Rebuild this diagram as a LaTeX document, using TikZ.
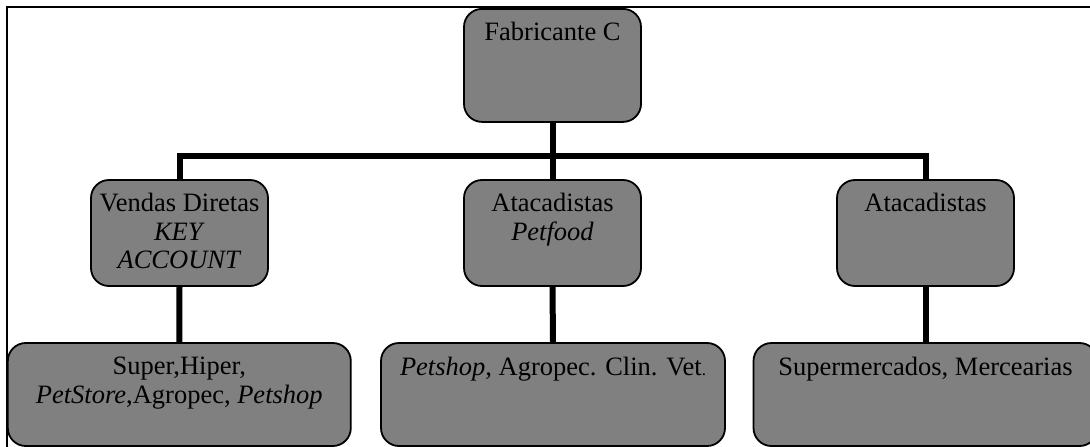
\documentclass[tikz,border=0pt]{standalone}
\usepackage{fontspec}
\setmainfont{Liberation Serif}
\definecolor{boxgray}{RGB}{128,128,128}
\begin{document}
\begin{tikzpicture}[x=1pt,y=-1pt,
  chanbox/.style={draw=black,line width=1.8pt,fill=boxgray,rounded corners=18pt,
    inner sep=0pt,minimum width=#1},
  chanbox/.default=177pt,
  boxtext/.style={anchor=north,inner sep=0pt,align=center,text=black,
    font=\fontsize{26.5}{28.5}\selectfont},
  conn/.style={line width=6pt,draw=black}]
\useasboundingbox (0,0) rectangle (1090,447);
\clip (0,0) rectangle (1090,447);

% outer frame
\draw[line width=2pt] (6.5,460) -- (6.5,6.5) -- (1100,6.5);

% channel boxes
\node[chanbox,minimum height=113pt] (fab) at (552.5,65.4) {};
\node[chanbox,minimum height=106pt] (vd)  at (179.5,233) {};
\node[chanbox,minimum height=106pt] (atp) at (552.5,233) {};
\node[chanbox,minimum height=106pt] (at)  at (925.5,233) {};
\node[chanbox=343pt,minimum height=103pt] (sup) at (179.3,394.5) {};
\node[chanbox=344pt,minimum height=103pt] (pet) at (553,394.5) {};
\node[chanbox=344pt,minimum height=103pt] (mer) at (925.5,394.5) {};

% connectors
\coordinate (bus) at (552.5,156);
\draw[conn] (fab.south) -- (atp.north);
\draw[conn] (vd.north) |- (bus) -| (at.north);
\draw[conn] (vd.south) -- (sup.north);
\draw[conn] (atp.south) -- (pet.north);
\draw[conn] (at.south) -- (mer.north);

% labels
\node[boxtext] (tfab) at ([yshift=-14pt]fab.north) {Fabricante C};
\node[boxtext] (tvd) at ([yshift=-14pt]vd.north) {Vendas Diretas\\\textit{KEY}\\\textit{ACCOUNT}};
\node[boxtext] (tatp) at ([yshift=-14pt]atp.north) {Atacadistas\\\textit{Petfood}};
\node[boxtext] (tat) at ([yshift=-14pt]at.north) {Atacadistas};
\node[boxtext] (tsup) at ([yshift=-15pt]sup.north) {Super,Hiper,\\\textit{PetStore},Agropec, \textit{Petshop}};
\node[boxtext] (tpet) at ([yshift=-15pt]pet.north) {\textit{Petshop,} Agropec. Clin. Vet{\fontsize{17}{17}\selectfont.}};
\node[boxtext] (tmer) at ([yshift=-15pt]mer.north) {Supermercados, Mercearias};
\end{tikzpicture}
\end{document}
